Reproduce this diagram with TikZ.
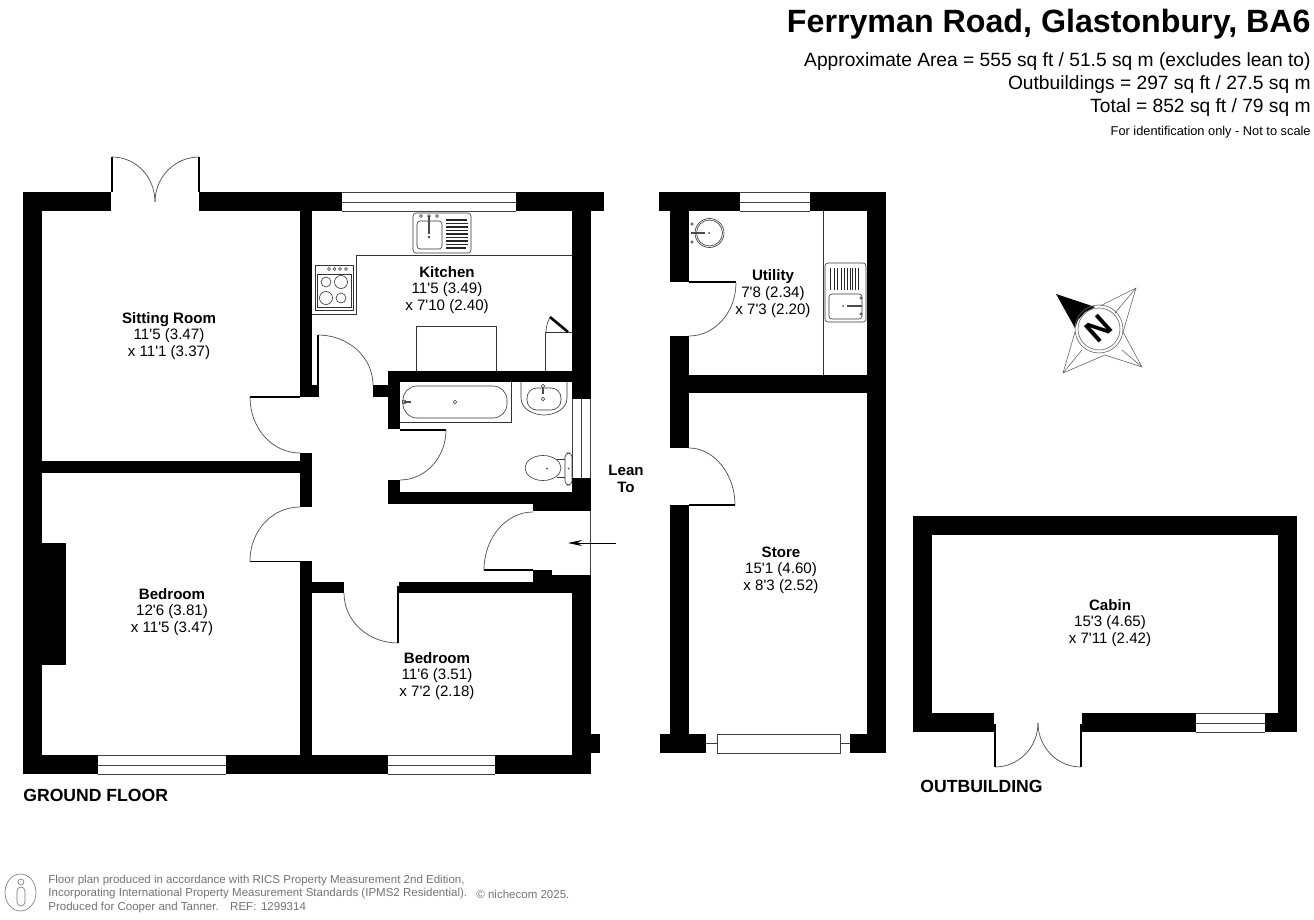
\documentclass[tikz,border=0pt]{standalone}
\usepackage{fontspec}
\setmainfont{Liberation Sans}[Ligatures=TeXOff]
\usetikzlibrary{arrows.meta}
\tikzset{
  wall/.style={fill=black},
  fine/.style={draw=black!75,line width=0.4pt},
  swing/.style={draw=black!70,line width=0.35pt},
  fit/.style={draw=black!80,line width=0.3pt},
  room/.style={align=center,inner sep=0pt,font=\fontsize{7.55}{8.3}\selectfont},
  legend/.style={anchor=east,inner sep=0pt,font=\fontsize{9.6}{11}\selectfont},
  tag/.style={anchor=west,inner sep=0pt,font=\bfseries\fontsize{8.8}{10}\selectfont},
  small/.style={anchor=west,inner sep=0pt,text=black!55,font=\fontsize{5.76}{6.7}\selectfont}
}
\newcommand{\roomlabel}[2]{\textbf{#1}\\#2}
\begin{document}
\begin{tikzpicture}[x=0.5pt,y=-0.5pt]
\useasboundingbox (0,0) rectangle (1314,920);
\node[anchor=east,inner sep=0pt,font=\bfseries\fontsize{16.1}{20}\selectfont] (title) at (1311,24) {Ferryman Road, Glastonbury, BA6};
\node[legend] (area) at (1311,62) {Approximate Area = 555 sq ft / 51.5 sq m (excludes lean to)};
\node[legend] (outb) at (1311,85) {Outbuildings = 297 sq ft / 27.5 sq m};
\node[legend] (total) at (1311,108) {Total = 852 sq ft / 79 sq m};
\node[anchor=east,inner sep=0pt,font=\fontsize{6.4}{7}\selectfont] (ident) at (1311,132) {For identification only - Not to scale};
\fill[wall] (23,192) rectangle (111,211);
\fill[wall] (199,192) rectangle (342,211);
\fill[wall] (516,192) rectangle (604,211);
\fill[wall] (23,192) rectangle (42,774);
\fill[wall] (572,192) rectangle (591,399);
\fill[wall] (572,478) rectangle (591,511);
\fill[wall] (533,504) rectangle (591,511);
\fill[wall] (388,492) rectangle (572,504);
\fill[wall] (388,371) rectangle (572,382);
\fill[wall] (388,371) rectangle (400,429);
\fill[wall] (373,385) rectangle (388,397);
\fill[wall] (388,480) rectangle (400,504);
\fill[wall] (300,211) rectangle (312,397);
\fill[wall] (312,385) rectangle (319,397);
\fill[wall] (300,453) rectangle (312,507);
\fill[wall] (42,461) rectangle (300,473);
\fill[wall] (300,561) rectangle (312,755);
\fill[wall] (312,582) rectangle (344,593);
\fill[wall] (399,582) rectangle (591,593);
\fill[wall] (533,570) rectangle (552,582);
\fill[wall] (552,575) rectangle (591,582);
\fill[wall] (572,593) rectangle (591,774);
\fill[wall] (591,734) rectangle (600,753);
\fill[wall] (42,543) rectangle (66,665);
\fill[wall] (42,755) rectangle (98,774);
\fill[wall] (226,755) rectangle (388,774);
\fill[wall] (495,755) rectangle (572,774);
\fill[wall] (397,586) rectangle (399,643);
\fill[wall] (317,335) rectangle (319,385);
\fill[wall] (250,396) rectangle (300,398);
\fill[wall] (250,560.5) rectangle (300,562);
\fill[wall] (400,428.5) rectangle (446,430.5);
\fill[wall] (484,569) rectangle (533,571);
\fill[wall] (110.5,157) rectangle (112.5,192);
\fill[wall] (198,157) rectangle (200,192);
\draw[fine] (342,192) -- (516,192);
\draw[fine] (342,202) -- (516,202);
\draw[fine] (342,211) -- (516,211);
\draw[fine] (98,755) -- (226,755);
\draw[fine] (98,765) -- (226,765);
\draw[fine] (98,774) -- (226,774);
\draw[fine] (388,755) -- (495,755);
\draw[fine] (388,765) -- (495,765);
\draw[fine] (388,774) -- (495,774);
\draw[fine] (572,399) -- (572,478);
\draw[fine] (581,399) -- (581,478);
\draw[fine] (590.5,399) -- (590.5,478);
\draw[fine] (590.5,511) -- (590.5,575);
\draw[swing] (250,397) .. controls (250,428) and (272,453) .. (300,453);
\draw[swing] (300,507) .. controls (272,507) and (250,531) .. (250,561);
\draw[swing] (344,593) .. controls (344,621) and (368,643) .. (398,643);
\draw[swing] (446,430) .. controls (446,458) and (425,480) .. (400,480);
\draw[swing] (318,335) .. controls (348,335) and (373,357) .. (373,385);
\draw[swing] (484,570) .. controls (484,538) and (506,512) .. (533,512);
\draw[swing] (112,157) .. controls (136,157) and (155,177) .. (155,202);
\draw[swing] (199,157) .. controls (175,157) and (155,177) .. (155,202);
\draw[-{Stealth[length=7pt,width=3pt]},line width=0.4pt] (616,543) -- (568,543);
\draw[fit] (572,255) -- (356,255) -- (356,314) -- (312,314);
\draw[fit,rounded corners=1.5pt] (413,213) rectangle (471,253);
\draw[fit,rounded corners=1.5pt] (417,221) rectangle (442,249);
\draw[line width=0.9pt,black!70] (429,216) -- (429,234);
\draw[fit] (429,237) circle (1);
\draw[fit] (421,216) circle (1.5);
\draw[fit] (429,216) circle (1.5);
\draw[fit] (437,216) circle (1.5);
\fill[black!85] (446,219.5) rectangle (467,221);
\fill[black!85] (446,223) rectangle (468,224.5);
\fill[black!85] (446,226.5) rectangle (468,228);
\fill[black!85] (446,230) rectangle (468,231.5);
\fill[black!85] (446,233.5) rectangle (468,235);
\fill[black!85] (446,237) rectangle (468,238.5);
\fill[black!85] (446,240.5) rectangle (468,242);
\fill[black!85] (446,244) rectangle (468,245.5);
\fill[black!85] (446,247.5) rectangle (466,249);
\draw[fit] (315,265) rectangle (353,310);
\draw[fit] (317,274) rectangle (351,307);
\draw[fit] (329,269) circle (1.5);
\draw[fit] (334.5,269) circle (1.5);
\draw[fit] (340,269) circle (1.5);
\draw[fit] (346,269) circle (1.5);
\draw[fit] (326,282) circle (5);
\draw[fit] (341,282) circle (6.5);
\draw[fit] (326,298) circle (6.5);
\draw[fit] (341,298) circle (5);
\draw[fit] (416,371) -- (416,326) -- (496,326) -- (496,371);
\draw[fit] (545,371) -- (545,332) -- (572,332);
\draw[line width=1.3pt] (550,317) -- (568,332);
\draw[fit] (546,332) .. controls (546,326) and (548,321) .. (550,317);
\draw[fit] (400,422) -- (511,422) -- (511,382);
\draw[fit,rounded corners=7pt] (403,386) rectangle (507,418);
\draw[fit] (455,402) circle (1.7);
\draw[fit] (404,402) circle (2);
\draw[line width=0.8pt,black!70] (404,402) -- (411,402);
\draw[fit] (521,382) -- (521,398) .. controls (521,410) and (535,415) .. (544,415) .. controls (553,415) and (567,410) .. (567,398) -- (567,382);
\draw[fit,rounded corners=5pt] (527,388) -- (527,410) -- (561,410) -- (561,388) -- cycle;
\draw[fit] (543,386) circle (1.7);
\draw[fit] (543,399) circle (1.7);
\draw[line width=0.8pt,black!70] (543,388) -- (543,394);
\draw[fit] (543,468) ellipse (18 and 12.5);
\draw[fit] (557,459) -- (565,459) (557,477) -- (565,477);
\draw[fit,rounded corners=2pt] (565,453) rectangle (572,485);
\fill[black!70] (547,468.5) circle (1);
\fill[black!70] (568.7,468.5) circle (1);
\fill[wall] (659,192) rectangle (740,211);
\fill[wall] (810,192) rectangle (886,211);
\fill[wall] (670,192) rectangle (689,282);
\fill[wall] (689,281) rectangle (736,283.5);
\fill[wall] (670,336) rectangle (689,448);
\fill[wall] (689,375) rectangle (867,393);
\fill[wall] (867,192) rectangle (886,753);
\fill[wall] (670,505) rectangle (689,753);
\fill[wall] (689,504) rectangle (735,505.5);
\fill[wall] (660,734) rectangle (706,753);
\fill[wall] (850,734) rectangle (867,753);
\draw[fine] (740,192) -- (810,192);
\draw[fine] (740,202) -- (810,202);
\draw[fine] (740,211) -- (810,211);
\draw[fine] (717,734) rectangle (840,753);
\draw[fine] (706,743) -- (717,743);
\draw[fine] (840,743) -- (850,743);
\draw[swing] (736,283) .. controls (736,312) and (715,336) .. (689,336);
\draw[swing] (689,448) .. controls (714,448) and (735,474) .. (735,505);
\draw[fit] (823,211) -- (823,375);
\draw[fit] (709.5,233) circle (14.5);
\draw[fit] (709.5,233) circle (13);
\draw[line width=0.9pt,black!70] (691,233) -- (705,233);
\fill[black!70] (709,233) circle (1);
\draw[fit] (692,224) circle (1.2);
\draw[fit] (692,242) circle (1.2);
\draw[fit,rounded corners=1.5pt] (825,263) rectangle (866,322);
\draw[fit,rounded corners=1.5pt] (829,294) rectangle (862,319);
\draw[line width=0.9pt,black!70] (847,306) -- (862,306);
\fill[black!70] (843,306) circle (1);
\draw[fit] (861,298) circle (1.2);
\draw[fit] (861,314) circle (1.2);
\fill[black!85] (830,268) rectangle (831.2,290);
\fill[black!85] (833.5,268) rectangle (834.7,290);
\fill[black!85] (837,268) rectangle (838.2,290);
\fill[black!85] (840.5,268) rectangle (841.7,290);
\fill[black!85] (844,268) rectangle (845.2,290);
\fill[black!85] (847,268) rectangle (848.2,290);
\fill[black!85] (849.5,268) rectangle (850.7,290);
\fill[black!85] (852,268) rectangle (853.2,290);
\fill[black!85] (855,268) rectangle (856.2,290);
\fill[black!85] (858,268) rectangle (859.2,290);
\fill[wall] (913,516) rectangle (1297,535);
\fill[wall] (913,516) rectangle (932,732);
\fill[wall] (1278,516) rectangle (1297,732);
\fill[wall] (913,713) rectangle (994,732);
\fill[wall] (1082,713) rectangle (1196,732);
\fill[wall] (1265,713) rectangle (1278,732);
\fill[wall] (994,724) rectangle (996,767);
\fill[wall] (1080,724) rectangle (1082,767);
\draw[fine] (1196,713.5) -- (1265,713.5);
\draw[fine] (1196,723) -- (1265,723);
\draw[fine] (1196,732) -- (1265,732);
\draw[swing] (995,767) .. controls (1019,767) and (1038,747) .. (1038,723);
\draw[swing] (1081,767) .. controls (1057,767) and (1038,747) .. (1038,723);
\fill[black] (1056,294) -- (1095,307) -- (1085,312) -- (1078,320) -- (1075,328) -- cycle;
\draw[fit,draw=black!60] (1099,329) circle (24);
\draw[fit,draw=black!60] (1099,329) circle (21);
\draw[fit,draw=black!60] (1100,306) -- (1136,288) -- (1123,332);
\draw[fit,draw=black!60] (1115,313) -- (1136,288);
\draw[fit,draw=black!60] (1123,332) -- (1142,367) -- (1105,355);
\draw[fit,draw=black!60] (1122,350) -- (1142,367);
\draw[fit,draw=black!60] (1105,355) -- (1063,373) -- (1075,332);
\draw[fit,draw=black!60] (1082,350) -- (1063,373);
\node[rotate=42,inner sep=0pt,font=\bfseries\fontsize{16}{16}\selectfont] (north) at (1099,329) {N};
\node[room] (sitting) at (169,336) {\roomlabel{Sitting Room}{11'5 (3.47)\\x 11'1 (3.37)}};
\node[room] (kitchen) at (447,290) {\roomlabel{Kitchen}{11'5 (3.49)\\x 7'10 (2.40)}};
\node[room] (utility) at (773,293.5) {\roomlabel{Utility}{7'8 (2.34)\\x 7'3 (2.20)}};
\node[room] (store) at (781,570) {\roomlabel{Store}{15'1 (4.60)\\x 8'3 (2.52)}};
\node[room] (cabin) at (1110,623) {\roomlabel{Cabin}{15'3 (4.65)\\x 7'11 (2.42)}};
\node[room] (bedone) at (172,612) {\roomlabel{Bedroom}{12'6 (3.81)\\x 11'5 (3.47)}};
\node[room] (bedtwo) at (437,676) {\roomlabel{Bedroom}{11'6 (3.51)\\x 7'2 (2.18)}};
\node[room,font=\bfseries\fontsize{7.55}{8.3}\selectfont] (leanto) at (626,479) {Lean\\To};
\node[tag] (ground) at (23,795) {GROUND FLOOR};
\node[tag] (outbuilding) at (920,786) {OUTBUILDING};
\draw[draw=black!55,line width=0.3pt] (20.5,892.5) ellipse (15.5 and 18.5);
\draw[draw=black!55,line width=0.3pt] (21,882) circle (3);
\draw[draw=black!55,line width=0.3pt,rounded corners=2pt] (17,887) rectangle (25,906);
\node[small] (footone) at (48,880.5) {Floor plan produced in accordance with RICS Property Measurement 2nd Edition,};
\node[small] (foottwo) at (48,894) {Incorporating International Property Measurement Standards (IPMS2 Residential).};
\node[small] (footthree) at (48,907.5) {Produced for Cooper and Tanner.\hspace{1em}REF:\hspace{0.4em}1299314};
\node[small] (niche) at (476,894) {© nichecom 2025.};
\end{tikzpicture}
\end{document}
